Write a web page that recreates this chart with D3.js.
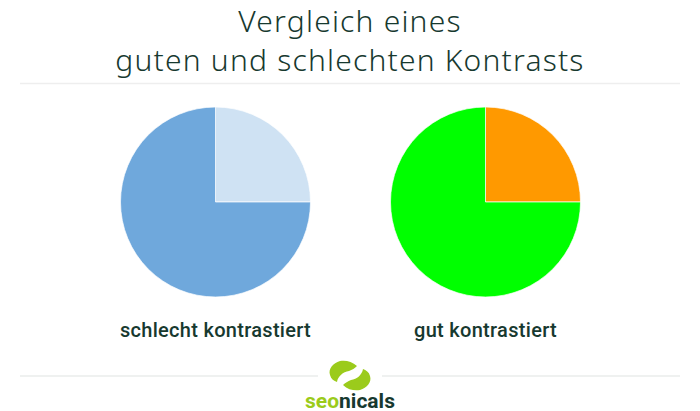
<!DOCTYPE html>
<html>
<head>
<meta charset="utf-8">
<script src="https://cdn.jsdelivr.net/npm/d3@7"></script>
<style>
  html, body { margin: 0; padding: 0; background: #fff; }
  svg { display: block; }
</style>
</head>
<body>
<svg id="chart" width="700" height="411"></svg>
<script>
// ---- data ----
const titleLines = ["Vergleich eines", "guten und schlechten Kontrasts"];
const chartLabels = ["schlecht kontrastiert", "gut kontrastiert"];
const sliceNames = ["Anteil A", "Anteil B"];
const sliceValues = [25, 75];
const palettes = [["#cfe2f3", "#6fa8dc"], ["#ff9900", "#00ff00"]];
const logoParts = ["seo", "nicals"];

// ---- layout ----
const W = 700, H = 411;
const svg = d3.select("#chart");
const titleColor = "#17392f";

// title
svg.append("g").selectAll("text").data(titleLines).join("text")
  .attr("x", W / 2)
  .attr("y", (d, i) => 32 + i * 39)
  .attr("text-anchor", "middle")
  .attr("font-family", "'Noto Sans', sans-serif")
  .attr("font-weight", 300)
  .attr("font-size", 30)
  .attr("letter-spacing", 1.2)
  .attr("fill", titleColor)
  .text(d => d);

// separator lines
svg.append("line").attr("x1", 20).attr("x2", 680).attr("y1", 83.5).attr("y2", 83.5)
  .attr("stroke", "#eeeeee").attr("stroke-width", 1.5);
svg.append("line").attr("x1", 20).attr("x2", 318).attr("y1", 376).attr("y2", 376)
  .attr("stroke", "#dfe3e1").attr("stroke-width", 1);
svg.append("line").attr("x1", 382).attr("x2", 680).attr("y1", 376).attr("y2", 376)
  .attr("stroke", "#dfe3e1").attr("stroke-width", 1);

// pies
const x = d3.scalePoint().domain(chartLabels).range([215.5, 485.5]);
const radius = 95;
const pie = d3.pie().sort(null).value(d => d.value);
const arc = d3.arc().innerRadius(0).outerRadius(radius);

chartLabels.forEach((label, ci) => {
  const data = sliceNames.map((n, i) => ({ name: n, value: sliceValues[i] }));
  const color = d3.scaleOrdinal().domain(sliceNames).range(palettes[ci]);
  const g = svg.append("g").attr("transform", `translate(${x(label)},202)`);
  g.selectAll("path").data(pie(data)).join("path")
    .attr("d", arc)
    .attr("fill", d => color(d.data.name))
    .attr("stroke", "#ffffff")
    .attr("stroke-width", 0.7);
  svg.append("text")
    .attr("x", x(label))
    .attr("y", 337)
    .attr("text-anchor", "middle")
    .attr("font-family", "Roboto, sans-serif")
    .attr("font-weight", 500)
    .attr("font-size", 20)
    .attr("letter-spacing", 0.3)
    .attr("fill", titleColor)
    .text(label);
});

// logo
const lime = "#9bcb1b";
const logo = svg.append("g");
logo.append("path")
  .attr("d", "M357 366 C352 361,345 360,340 361 C333 363,328 369,330 375 C331 379,334 381,337 382 C338 376,343 372,349 371 C352 370,355 368,357 366 Z")
  .attr("fill", lime);
logo.append("path")
  .attr("d", "M343 385 C348 390,355 391,360 390 C367 388,372 382,370 376 C369 372,366 370,363 369 C362 375,357 379,351 380 C348 381,345 383,343 385 Z")
  .attr("fill", lime);
const lt = logo.append("text")
  .attr("x", W / 2)
  .attr("y", 407.5)
  .attr("text-anchor", "middle")
  .attr("font-family", "Roboto, sans-serif")
  .attr("font-weight", 700)
  .attr("font-size", 21);
lt.append("tspan").attr("fill", lime).text(logoParts[0]);
lt.append("tspan").attr("fill", titleColor).text(logoParts[1]);
</script>
</body>
</html>
